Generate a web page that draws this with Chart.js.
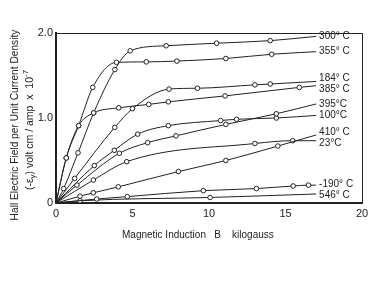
<!DOCTYPE html>
<html lang="en">
<head>
    <meta charset="UTF-8">
    <title>Hall Electric Field vs Magnetic Induction</title>
    <script src="https://cdn.jsdelivr.net/npm/chart.js"></script>
    <style>
        body {
            margin: 0;
            background-color: #ffffff;
        }
        .chart-box {
            width: 382px;
            height: 286px;
        }
    </style>
</head>
<body>

    <div class="chart-box">
        <canvas id="hallChart"></canvas>
    </div>

    <script>
        // Magnetic induction B (kilogauss) and Hall field (x 10^-7)
        const B_300 = [0, 0.5, 1.44, 2.46, 3.85, 4.85, 7.2, 10.5, 14.0, 17];
        const E_300 = [0, 0.17, 0.59, 1.06, 1.57, 1.79, 1.85, 1.88, 1.91, 1.96];

        const B_355 = [0, 0.67, 1.48, 2.4, 3.95, 5.9, 7.9, 11.1, 14.1, 17];
        const E_355 = [0, 0.53, 0.91, 1.36, 1.655, 1.66, 1.67, 1.70, 1.75, 1.78];

        const B_184 = [0, 1.22, 3.84, 5.0, 7.39, 9.24, 13.0, 14.0, 17];
        const E_184 = [0, 0.29, 0.89, 1.11, 1.34, 1.35, 1.39, 1.40, 1.43];

        const B_385 = [0, 0.67, 1.48, 2.46, 4.1, 6.06, 7.34, 11.05, 15.9, 17];
        const E_385 = [0, 0.53, 0.91, 1.06, 1.12, 1.16, 1.19, 1.26, 1.36, 1.38];

        const B_395 = [0, 1.37, 4.14, 5.99, 7.84, 11.1, 14.4, 17];
        const E_395 = [0, 0.21, 0.585, 0.71, 0.79, 0.925, 1.05, 1.165];

        const B_100 = [0, 2.5, 3.81, 5.34, 7.34, 10.76, 11.8, 14.4, 17];
        const E_100 = [0, 0.44, 0.62, 0.81, 0.91, 0.97, 0.985, 1.0, 1.03];

        const B_410 = [0, 1.57, 2.44, 4.07, 8.0, 11.1, 14.5, 17];
        const E_410 = [0, 0.08, 0.12, 0.19, 0.37, 0.5, 0.67, 0.8];

        const B_23 = [0, 2.44, 4.62, 13.0, 15.47, 17];
        const E_23 = [0, 0.27, 0.486, 0.70, 0.733, 0.733];

        const B_m190 = [0, 2.66, 4.66, 9.63, 13.1, 15.5, 16.5, 17];
        const E_m190 = [0, 0.047, 0.075, 0.145, 0.17, 0.2, 0.21, 0.21];

        const B_546 = [0, 1.57, 10.07, 17];
        const E_546 = [0, 0.026, 0.065, 0.106];

        const curveLabels = ['300° C', '355° C', '184° C', '385° C', '395°C', '100°C', '410° C', '23°C', '-190° C', '546° C'];
        const curveB = [B_300, B_355, B_184, B_385, B_395, B_100, B_410, B_23, B_m190, B_546];
        const curveE = [E_300, E_355, E_184, E_385, E_395, E_100, E_410, E_23, E_m190, E_546];

        const xTicks = [0, 5, 10, 15, 20];
        const yTickLabels = ['0', '1.0', '2.0'];

        const yTitle1 = 'Hall Electric Field per Unit Current Density';
        const xTitle = 'Magnetic Induction   B    kilogauss';

        const ink = '#222222';
        const font = '"Liberation Sans", Arial, sans-serif';

        const datasets = curveLabels.map((name, i) => ({
            label: name,
            data: curveB[i].map((b, j) => ({ x: b, y: curveE[i][j] })),
            borderColor: ink,
            borderWidth: 1,
            backgroundColor: '#ffffff',
            pointBorderColor: ink,
            pointBorderWidth: 1,
            // no circle at the origin or at the end of the drawn line
            pointRadius: ctx => (ctx.dataIndex === 0 || ctx.dataIndex === curveB[i].length - 1) ? 0 : 2.3,
            cubicInterpolationMode: 'monotone',
            fill: false
        }));

        // frame on top/right, axis titles and curve names
        const decorations = {
            id: 'decorations',
            beforeDatasetsDraw(chart) {
                const { ctx, chartArea: a } = chart;
                ctx.save();
                ctx.strokeStyle = ink;
                ctx.lineWidth = 1;
                ctx.beginPath();
                ctx.moveTo(a.left, a.top + 0.5);
                ctx.lineTo(a.right + 0.5, a.top + 0.5);
                ctx.lineTo(a.right + 0.5, a.bottom);
                ctx.stroke();
                ctx.restore();
            },
            afterDraw(chart) {
                const { ctx, scales } = chart;
                ctx.save();
                ctx.fillStyle = ink;

                // curve names next to line ends, nudged apart when they crowd
                const items = curveLabels.map((name, i) => {
                    const last = curveB[i].length - 1;
                    return {
                        name: name,
                        x: scales.x.getPixelForValue(curveB[i][last]) + 3,
                        y: scales.y.getPixelForValue(curveE[i][last])
                    };
                }).sort((p, q) => p.y - q.y);
                const gap = 11;
                for (let k = 1; k < items.length; k++) {
                    const d = items[k].y - items[k - 1].y;
                    if (d < gap) {
                        const s = (gap - d) / 2;
                        items[k - 1].y -= s;
                        items[k].y += s;
                    }
                }
                ctx.font = '10px ' + font;
                ctx.textAlign = 'left';
                ctx.textBaseline = 'middle';
                items.forEach(it => ctx.fillText(it.name, it.x, it.y));

                // x title
                ctx.font = '10px ' + font;
                ctx.fillText(xTitle, 122, 235);

                // y title, two rotated lines
                ctx.save();
                ctx.translate(15, 125);
                ctx.rotate(-Math.PI / 2);
                ctx.textAlign = 'center';
                ctx.font = '10.2px ' + font;
                ctx.fillText(yTitle1, 0, 0);
                ctx.restore();

                ctx.save();
                ctx.translate(30, 130);
                ctx.rotate(-Math.PI / 2);
                ctx.textAlign = 'left';
                const big = '10.5px ' + font;
                const small = '8px ' + font;
                const parts = [
                    ['(-ε', big, 0],
                    ['y', small, 3],
                    [') volt cm / amp  x  10', big, 0],
                    ['-7', small, -4]
                ];
                let total = 0;
                parts.forEach(p => { ctx.font = p[1]; total += ctx.measureText(p[0]).width; });
                let px = -total / 2;
                parts.forEach(p => {
                    ctx.font = p[1];
                    ctx.fillText(p[0], px, p[2]);
                    px += ctx.measureText(p[0]).width;
                });
                ctx.restore();

                ctx.restore();
            }
        };

        new Chart(document.getElementById('hallChart'), {
            type: 'line',
            data: { datasets: datasets },
            options: {
                responsive: true,
                maintainAspectRatio: false,
                animation: false,
                layout: { padding: { top: 33, right: 20, bottom: 0, left: 0 } },
                plugins: {
                    legend: { display: false },
                    tooltip: { enabled: false }
                },
                scales: {
                    x: {
                        type: 'linear',
                        min: 0,
                        max: 20,
                        afterFit: s => { s.height = 83; },
                        afterBuildTicks: s => { s.ticks = xTicks.map(v => ({ value: v })); },
                        grid: { display: false, drawTicks: false },
                        border: { display: true, color: ink, width: 2 },
                        ticks: {
                            padding: 4,
                            color: ink,
                            font: { family: font, size: 11 },
                            callback: v => String(v)
                        }
                    },
                    y: {
                        type: 'linear',
                        min: 0,
                        max: 2,
                        afterFit: s => { s.width = 56; },
                        afterBuildTicks: s => { s.ticks = yTickLabels.map((t, i) => ({ value: i })); },
                        grid: { display: false, drawTicks: false },
                        border: { display: true, color: ink, width: 2 },
                        ticks: {
                            padding: 3,
                            color: ink,
                            font: { family: font, size: 11 },
                            callback: (v, i) => yTickLabels[i]
                        }
                    }
                }
            },
            plugins: [decorations]
        });
    </script>

</body>
</html>
